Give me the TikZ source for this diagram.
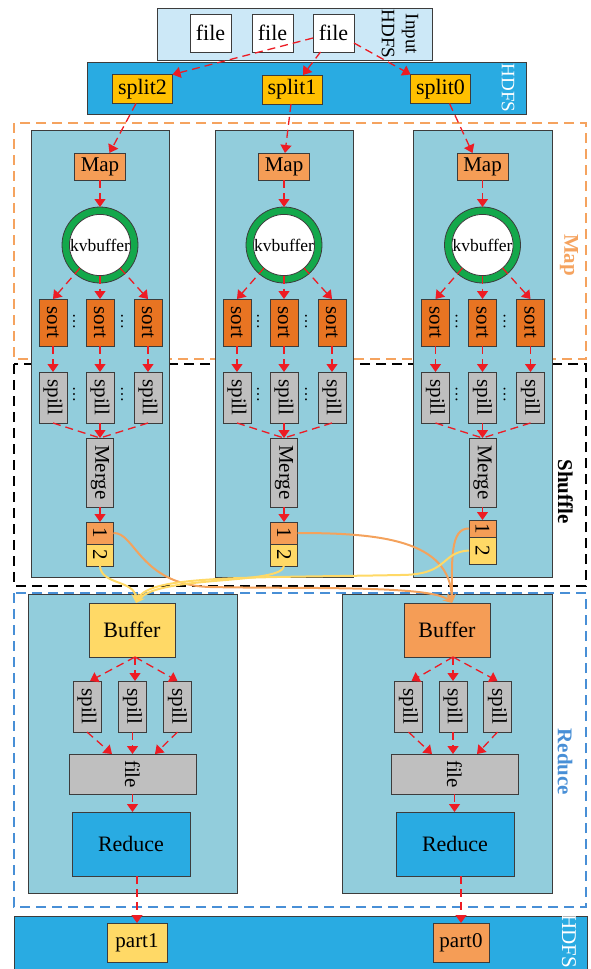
\documentclass[tikz,border=0pt]{standalone}
\usepackage{fontspec}
\setmainfont{Liberation Serif}
\usepackage{graphicx}
\usetikzlibrary{arrows.meta}

\definecolor{hdfsblue}{RGB}{41,171,226}
\definecolor{inputblue}{RGB}{204,232,247}
\definecolor{splitgold}{RGB}{255,192,0}
\definecolor{colfill}{RGB}{146,205,220}
\definecolor{lightorange}{RGB}{245,157,86}
\definecolor{sortorange}{RGB}{232,116,34}
\definecolor{boxgray}{RGB}{191,191,191}
\definecolor{paleyellow}{RGB}{255,217,102}
\definecolor{ringgreen}{RGB}{19,168,75}
\definecolor{arrowred}{RGB}{237,28,36}
\definecolor{mapline}{RGB}{245,163,95}
\definecolor{reduceline}{RGB}{72,143,214}
\definecolor{curveorange}{RGB}{244,162,92}
\definecolor{linegray}{RGB}{60,60,60}

\tikzset{
  box/.style={draw=linegray, line width=0.8pt, inner sep=0pt, outer sep=0pt, font=\fontsize{21}{25}\selectfont},
  filebox/.style={box, fill=white, minimum width=41pt, minimum height=38pt, font=\fontsize{22}{26}\selectfont},
  splitbox/.style={box, fill=splitgold, minimum width=60pt, minimum height=29pt, font=\fontsize{22}{26}\selectfont},
  band/.style={box, fill=hdfsblue},
  colbox/.style={box, fill=colfill},
  mapbox/.style={box, fill=lightorange, minimum width=51pt, minimum height=27pt},
  sortbox/.style={box, fill=sortorange, minimum width=28pt, minimum height=47pt},
  spillbox/.style={box, fill=boxgray, minimum width=28pt, minimum height=51pt},
  mergebox/.style={box, fill=boxgray, minimum width=27pt, minimum height=69pt},
  ring/.style={circle, draw=linegray, line width=0.8pt, fill=ringgreen, minimum size=76pt, inner sep=0pt, outer sep=0pt},
  hole/.style={circle, draw=linegray, line width=0.8pt, fill=white, minimum size=61pt, inner sep=0pt, outer sep=0pt, font=\fontsize{17.5}{20}\selectfont},
  bufbox/.style={box, minimum width=86pt, minimum height=54pt, font=\fontsize{22}{26}\selectfont},
  redbox/.style={box, fill=hdfsblue, minimum width=118pt, minimum height=64pt, font=\fontsize{22}{26}\selectfont},
  rfilebox/.style={box, fill=boxgray, minimum width=127pt, minimum height=40pt},
  partbox/.style={box, minimum height=39pt},
  lbl/.style={inner sep=0pt, font=\fontsize{19}{23}\selectfont},
  dotsnode/.style={inner sep=0pt, font=\fontsize{16}{18}\selectfont},
  regionlbl/.style={inner sep=0pt, font=\bfseries\fontsize{21}{25}\selectfont},
  region/.style={line width=1.4pt, dash pattern=on 10pt off 6pt},
  flow/.style={color=arrowred, line width=1.3pt, dash pattern=on 8pt off 5pt, -{Triangle[length=8pt,width=11pt]}},
  flowline/.style={color=arrowred, line width=1.3pt, dash pattern=on 8pt off 5pt},
  shufO/.style={color=curveorange, line width=2pt, -{Stealth[length=9pt,width=8pt]}},
  shufY/.style={color=paleyellow, line width=2pt, -{Stealth[length=9pt,width=8pt]}},
}

\begin{document}
\begin{tikzpicture}[x=1pt,y=-1pt]
\useasboundingbox (0,0) rectangle (590,969);

% ---- input files on HDFS ----
\node[box, fill=inputblue, minimum width=275pt, minimum height=52pt] (input) at (294.5,34) {};
\node[filebox] (f1) at (210.5,33) {file};
\node[filebox] (f2) at (272.5,33) {file};
\node[filebox] (f3) at (333.5,33) {file};
\node[lbl] (inputlbl) at (410,34) {\rotatebox{-90}{Input}};
\node[lbl] (inputfs) at (388,34) {\rotatebox{-90}{HDFS}};

% ---- splits ----
\node[band, minimum width=439pt, minimum height=52pt] (hdfstop) at (306.5,88) {};
\node[lbl, text=white] (hdfstoplbl) at (508,88) {\rotatebox{-90}{HDFS}};
\node[splitbox] (sp2) at (142.5,89) {split2};
\node[splitbox] (sp1) at (292,89.5) {split1};
\node[splitbox] (sp0) at (440.5,89) {split0};

% ---- phase regions ----
\draw[region, mapline] (14,123) rectangle (586,359);
\draw[region, black] (14,364) rectangle (586,586);
\draw[region, reduceline] (14,593) rectangle (586,907);

% ---- map task columns ----
\node[colbox, minimum width=138pt, minimum height=447pt] (col1) at (100,353.5) {};
\node[colbox, minimum width=138pt, minimum height=447pt] (col2) at (284,353.5) {};
\node[colbox, minimum width=139pt, minimum height=447pt] (col3) at (482.5,353.5) {};

% ---- reduce task columns ----
\node[colbox, minimum width=209pt, minimum height=299pt] (rcolL) at (132.5,743.5) {};
\node[colbox, minimum width=210pt, minimum height=299pt] (rcolR) at (447,743.5) {};

% ---- output on HDFS ----
\node[band, minimum width=573pt, minimum height=60pt] (hdfsbot) at (300.5,946) {};
\node[lbl, text=white, font=\fontsize{21}{25}\selectfont] (hdfsbotlbl) at (569,941.5) {\rotatebox{-90}{HDFS}};

% ---- phase labels ----
\node[regionlbl, text=mapline] (maplbl) at (569,255) {\rotatebox{-90}{Map}};
\node[regionlbl, text=black] (shufflelbl) at (565.5,491.5) {\rotatebox{-90}{Shuffle}};
\node[regionlbl, text=reduceline] (reducelbl) at (565,762) {\rotatebox{-90}{Reduce}};

% ---- contents of each map task ----
\foreach \c/\X/\ya/\ha/\yb/\hb in {1/100/533/22/555/22, 2/284/533/22/555/22, 3/482.5/528.5/17/550.5/27}{
  \node[mapbox] (map\c) at (\X,166.5) {Map};
  \node[ring] (ring\c) at (\X,245) {};
  \node[hole] (hole\c) at (\X,245) {kvbuffer};
  \node[sortbox] (sortA\c) at (\X-47,322.5) {\rotatebox{-90}{sort}};
  \node[sortbox] (sortB\c) at (\X,322.5) {\rotatebox{-90}{sort}};
  \node[sortbox] (sortC\c) at (\X+48,322.5) {\rotatebox{-90}{sort}};
  \node[dotsnode] (sdotA\c) at (\X-26,321) {\rotatebox{-90}{\ldots}};
  \node[dotsnode] (sdotB\c) at (\X+22,321) {\rotatebox{-90}{\ldots}};
  \node[spillbox] (spillA\c) at (\X-47,397.5) {\rotatebox{-90}{spill}};
  \node[spillbox] (spillB\c) at (\X,397.5) {\rotatebox{-90}{spill}};
  \node[spillbox] (spillC\c) at (\X+48,397.5) {\rotatebox{-90}{spill}};
  \node[dotsnode] (pdotA\c) at (\X-26,394) {\rotatebox{-90}{\ldots}};
  \node[dotsnode] (pdotB\c) at (\X+22,394) {\rotatebox{-90}{\ldots}};
  \node[mergebox] (merge\c) at (\X,472.5) {\rotatebox{-90}{Merge}};
  \node[box, fill=lightorange, minimum width=27pt, minimum height=\ha pt] (one\c) at (\X,\ya) {\rotatebox{-90}{1}};
  \node[box, fill=paleyellow, minimum width=27pt, minimum height=\hb pt] (two\c) at (\X,\yb) {\rotatebox{-90}{2}};
  \draw[flow] (map\c) -- (ring\c);
  \draw[flow] (hole\c.229) -- (sortA\c.north);
  \draw[flow] (hole\c.south) -- (sortB\c.north);
  \draw[flow] (hole\c.311) -- (sortC\c.north);
  \draw[flow] (sortA\c) -- (spillA\c);
  \draw[flow] (sortB\c) -- (spillB\c);
  \draw[flow] (sortC\c) -- (spillC\c);
  \draw[flowline] (spillA\c.south) -- (merge\c.north);
  \draw[flowline] (spillC\c.south) -- (merge\c.north);
  \draw[flow] (spillB\c) -- (merge\c);
  \draw[flow] (merge\c) -- (one\c);
}

% ---- input files to splits, splits to map tasks ----
\draw[flow] ([yshift=-5pt]f3.west) -- (sp2.north east);
\draw[flow] ([xshift=-13pt]f3.south) -- ([xshift=11pt]sp1.north);
\draw[flow] ([yshift=-10pt]f3.east) -- (sp0.north west);
\draw[flow] ([xshift=-6.5pt]sp2.south) -- ([xshift=9.5pt]map1.north);
\draw[flow] ([xshift=-1pt]sp1.south) -- ([xshift=1pt]map2.north);
\draw[flow] ([xshift=9pt]sp0.south) -- ([xshift=-10pt]map3.north);

% ---- reduce tasks ----
\node[bufbox, fill=paleyellow] (bufL) at (132,630) {Buffer};
\node[bufbox, fill=lightorange] (bufR) at (447,630) {Buffer};
\node[spillbox] (rspAL) at (87,706.5) {\rotatebox{-90}{spill}};
\node[spillbox] (rspBL) at (132.5,706.5) {\rotatebox{-90}{spill}};
\node[spillbox] (rspCL) at (177.5,706.5) {\rotatebox{-90}{spill}};
\node[spillbox] (rspAR) at (408.5,706.5) {\rotatebox{-90}{spill}};
\node[spillbox] (rspBR) at (453,706.5) {\rotatebox{-90}{spill}};
\node[spillbox] (rspCR) at (497.5,706.5) {\rotatebox{-90}{spill}};
\node[rfilebox] (rfileL) at (132.5,774) {\rotatebox{-90}{file}};
\node[rfilebox] (rfileR) at (454.5,774) {\rotatebox{-90}{file}};
\node[redbox] (redL) at (131,844) {Reduce};
\node[redbox] (redR) at (455,844) {Reduce};
\node[partbox, fill=paleyellow, minimum width=60pt] (part1) at (137,942.5) {part1};
\node[partbox, fill=lightorange, minimum width=56pt] (part0) at (461,942.5) {part0};

\coordinate (bL) at ([xshift=3pt]bufL.south);
\coordinate (bR) at ([xshift=6pt]bufR.south);
\draw[flow] (bL) -- ([xshift=3pt]rspAL.north);
\draw[flow] (bL) -- (bL |- rspBL.north);
\draw[flow] (bL) -- (rspCL.north);
\draw[flow] (bR) -- ([xshift=3pt]rspAR.north);
\draw[flow] (bR) -- (rspBR.north);
\draw[flow] (bR) -- (rspCR.north);

\draw[flow] (rspAL.south) -- ([xshift=-20.5pt]rfileL.north);
\draw[flow] (rspBL.south) -- (rspBL.south |- rfileL.north);
\draw[flow] (rspCL.south) -- ([xshift=22.5pt]rfileL.north);
\draw[flow] (rspAR.south) -- ([xshift=-22.5pt]rfileR.north);
\draw[flow] (rspBR.south) -- (rspBR.south |- rfileR.north);
\draw[flow] (rspCR.south) -- ([xshift=22.5pt]rfileR.north);

\draw[flow] (rfileL.south) -- (rfileL.south |- redL.north);
\draw[flow] (rfileR.south) -- (rfileR.south |- redR.north);
\draw[flow] ([xshift=6pt]redL.south) -- (part1.north);
\draw[flow] ([xshift=6pt]redR.south) -- (part0.north);

% ---- shuffle: partition 1 to the right reducer, partition 2 to the left ----
\draw[shufO] (one1.east) .. controls (135,532) and (140,585) .. (210,587)
  .. controls (300,589) and (430,585) .. ([xshift=5pt]bufR.north);
\draw[shufO] (one2.east) .. controls (380,533) and (450,540) .. ([xshift=5pt]bufR.north);
\draw[shufO] (one3.west) .. controls (450,528) and (452,560) .. ([xshift=5pt]bufR.north);
\draw[shufY] (two1.south) .. controls (101,585) and (135,580) .. ([xshift=4pt]bufL.north);
\draw[shufY] (two2.south) .. controls (282,585) and (160,575) .. ([xshift=4pt]bufL.north);
\draw[shufY] (two3.west) .. controls (440,552) and (450,575) .. (400,575)
  .. controls (250,578) and (150,575) .. ([xshift=4pt]bufL.north);
\end{tikzpicture}
\end{document}
